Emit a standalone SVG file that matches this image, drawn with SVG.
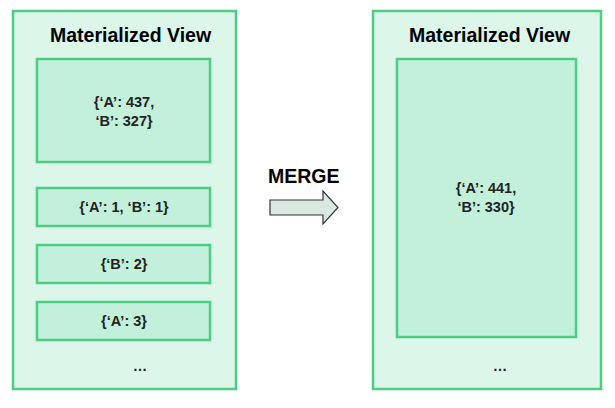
<svg xmlns="http://www.w3.org/2000/svg" width="615" height="408" viewBox="0 0 615 408">
<style>
.outer{fill:#dcf7e9;stroke:#4ccc84;stroke-width:2.5}
.inner{fill:#c2f0da;stroke:#4ccc84;stroke-width:2.5}
.title{font-family:"Liberation Sans",Arial,sans-serif;font-weight:bold;font-size:19.5px;fill:#000}
.t{font-family:"Liberation Sans",Arial,sans-serif;font-weight:bold;font-size:14.5px;fill:#222;text-anchor:middle}
</style>
<rect width="615" height="408" fill="#fff"/>
<g id="left-view">
<rect class="outer" x="13" y="11" width="223" height="378"/>
<text class="title" x="50" y="42">Materialized View</text>
</g>
<g id="left-big"><rect class="inner" x="37" y="59" width="173" height="103"/>
<text class="t" x="124" y="107">{‘A’: 437,</text><text class="t" x="124" y="126">‘B’: 327}</text></g>
<g id="delta1"><rect class="inner" x="37" y="188" width="173" height="38"/><text class="t" x="124" y="212">{‘A’: 1, ‘B’: 1}</text></g>
<g id="delta2"><rect class="inner" x="37" y="245" width="173" height="38"/><text class="t" x="124" y="269">{‘B’: 2}</text></g>
<g id="delta3"><rect class="inner" x="37" y="302" width="173" height="38"/><text class="t" x="124" y="326">{‘A’: 3}</text></g>
<text class="t" x="140" y="371">…</text>
<g id="connectors">
<text class="title" x="268" y="183">MERGE</text>
<path d="M270,200 H323 V191 L338,207.5 L323,224 V215 H270 Z" fill="#dae8e0" stroke="#333" stroke-width="1.2"/>
</g>
<g id="right-view">
<rect class="outer" x="373" y="11" width="228" height="378"/>
<text class="title" x="409" y="42">Materialized View</text>
</g>
<g id="right-big"><rect class="inner" x="397" y="59" width="179" height="278"/>
<text class="t" x="486" y="193">{‘A’: 441,</text><text class="t" x="486" y="212">‘B’: 330}</text></g>
<text class="t" x="500" y="371">…</text>
</svg>
